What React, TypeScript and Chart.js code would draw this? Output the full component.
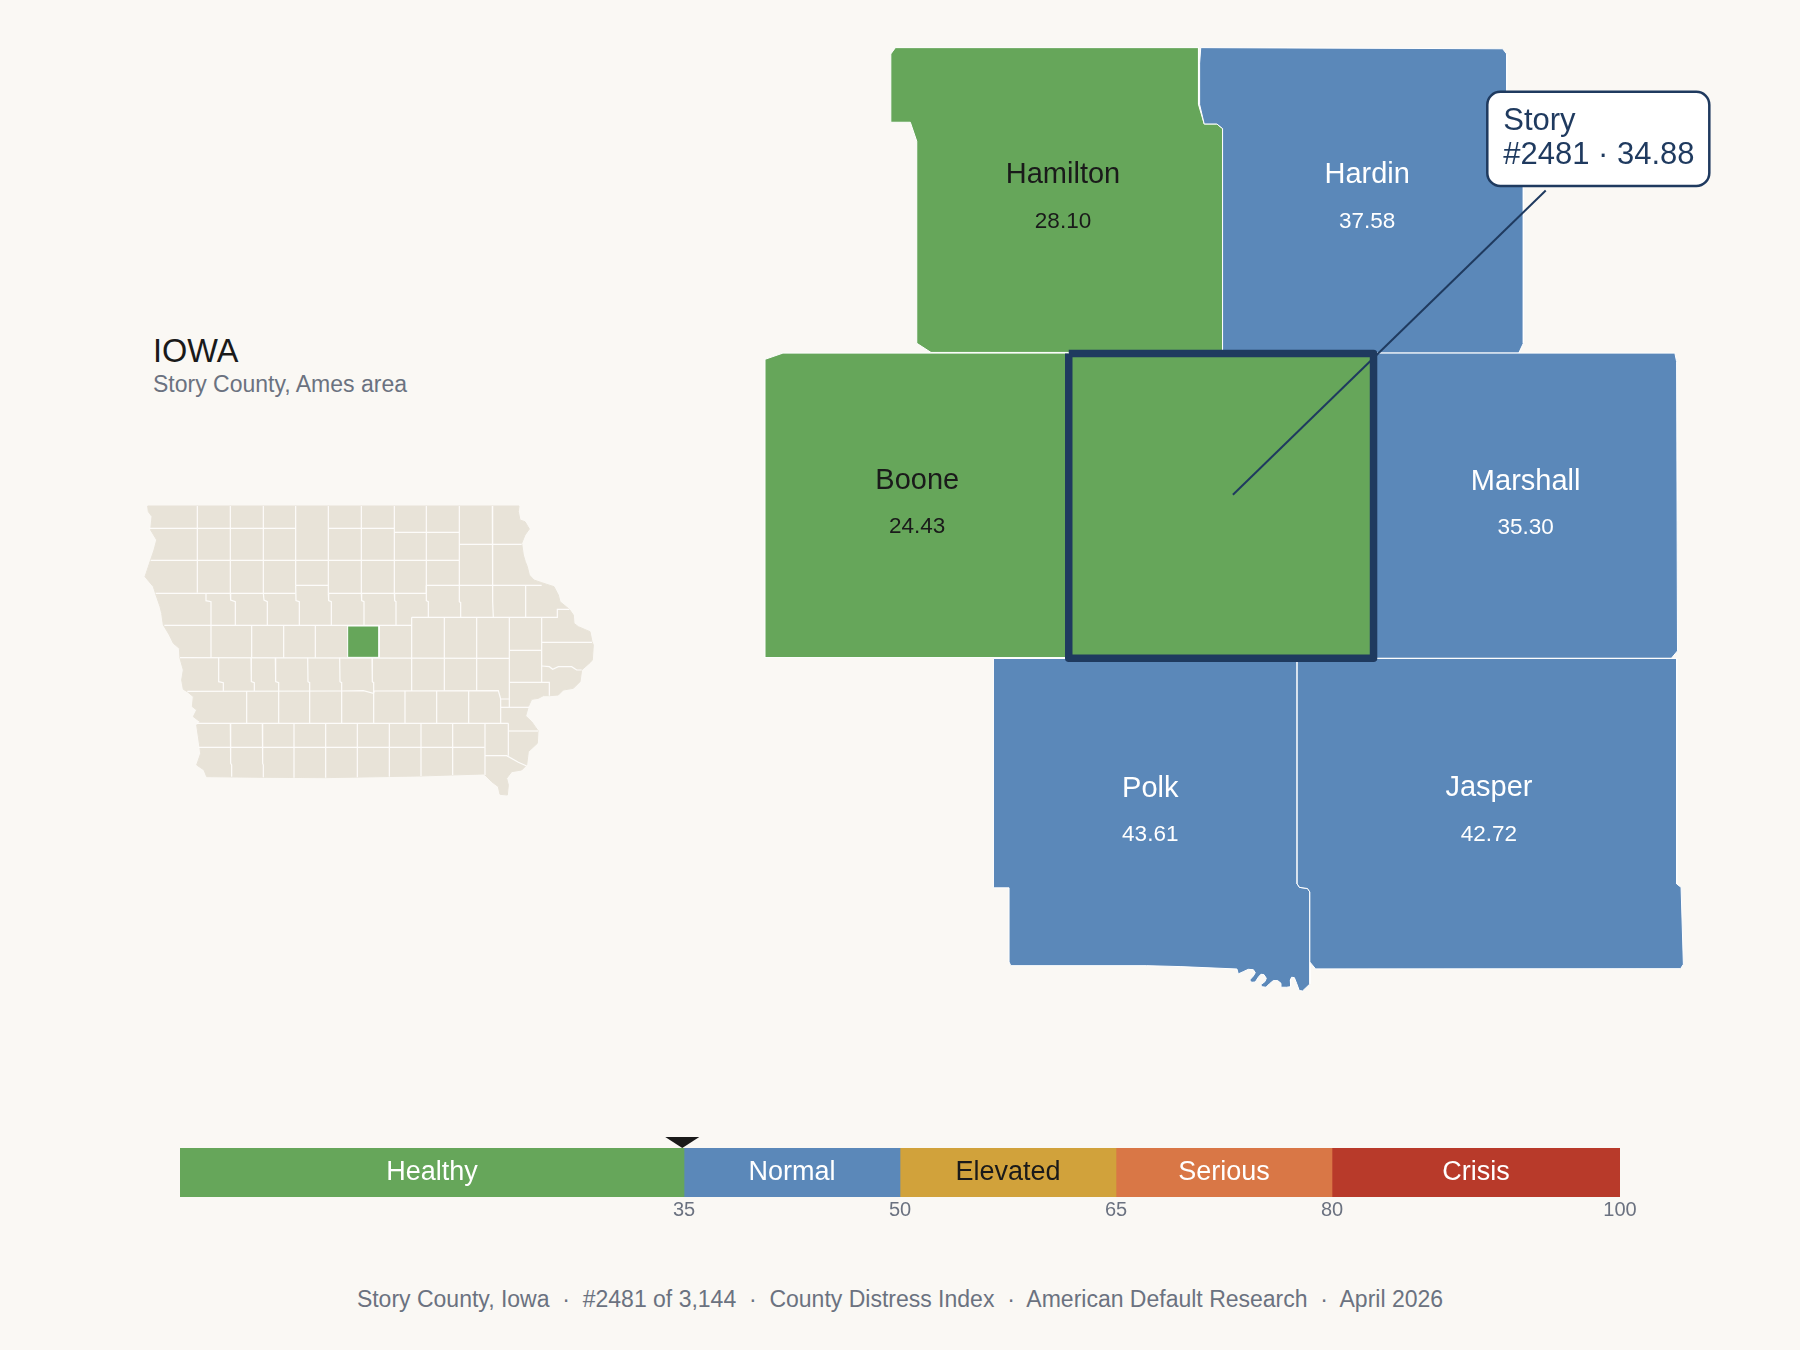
import React, { useEffect, useRef } from "react";
import { Chart, registerables } from "chart.js";

Chart.register(...registerables);

type P = [number, number];

const BG = "#FAF8F4";
const NAVY = "#1F3A5F";
const INK = "#1A1A1A";
const GREY = "#6B7280";
const FONT = '"Liberation Sans", Arial, sans-serif';

// ---- severity scale ----
const bandNames = ["Healthy", "Normal", "Elevated", "Serious", "Crisis"];
const bandWidths = [35, 15, 15, 15, 20];
const bandColors = ["#66A65A", "#5B88B9", "#D1A23B", "#D97746", "#B83A2A"];
const bandInk = ["#FFFFFF", "#FFFFFF", INK, "#FFFFFF", "#FFFFFF"];
const bandTicks = [35, 50, 65, 80, 100];
const storyScore = 34.88;

// ---- neighbouring counties ----
const countyNames = ["Hamilton", "Hardin", "Boone", "Marshall", "Polk", "Jasper"];
const countyValues = [28.1, 37.58, 24.43, 35.3, 43.61, 42.72];
const countyLabelAnchors: P[] = [
  [926, 152.8], [1191, 152.8], [799, 418.8], [1329, 419.6], [1002, 687.6], [1297, 686.8],
];
const hamiltonShape: P[] = [
  [776, 47], [780, 41.5], [1044, 41.5], [1044, 91], [1049, 108], [1060, 108], [1065, 112], [1065, 307],
  [811, 307], [798.6, 299], [798.6, 123], [793, 106.5], [776, 106.5],
];
const hardinShape: P[] = [
  [1046, 41.5], [1309, 42.5], [1312.5, 47], [1312.5, 120], [1327, 130], [1327, 299], [1323, 307.5], [1065, 307.5],
  [1065, 112], [1060, 108], [1049, 108], [1045, 91], [1045, 55],
];
const booneShape: P[] = [[666.4, 313], [682, 307.6], [931, 307.6], [931, 572.8], [666.4, 572.8]];
const marshallShape: P[] = [[1197, 307.6], [1459, 307.6], [1460.5, 315], [1461.3, 567], [1456, 573.4], [1197, 573.4]];
const polkShape: P[] = [
  [865.4, 573.6], [1130, 573.6], [1130, 770], [1132, 773], [1139, 774], [1141.1, 777], [1141.1, 857.1],
  [1134.7, 863.2], [1131.8, 862.9], [1129.5, 856.6], [1127.5, 851.6], [1125.1, 851.3], [1124, 853.7], [1124.3, 859.5],
  [1120.8, 860], [1116.7, 860], [1115.9, 856.6], [1113, 854.2], [1109.2, 854.2], [1105.7, 857.1], [1102.8, 860],
  [1099, 859.5], [1098.4, 857.7], [1101.9, 855.1], [1103.1, 852.2], [1101, 849], [1098.4, 848.7], [1096.1, 851.3],
  [1093.5, 855.4], [1090.3, 855.7], [1088.6, 853.7], [1091.8, 850.2], [1093.5, 847.3], [1091.8, 844.7], [1087.4, 844.4],
  [1083, 846.4], [1078.7, 848.4], [1077.5, 844.1], [1028, 842], [999, 841.2], [880.5, 841.2], [879, 838], [879, 773.4], [865.4, 773.4],
];
const jasperShape: P[] = [
  [1130, 573.6], [1460.6, 573.6], [1460.6, 770], [1464.4, 773], [1466.4, 840], [1464, 843.8], [1146, 844], [1141, 838],
  [1141, 777], [1139, 774], [1132, 773], [1130, 770],
];
const countyShapes = [hamiltonShape, hardinShape, booneShape, marshallShape, polkShape, jasperShape];

const storyName = "Story";
const storyRank = 2481;
const storyShape: P[] = [[931, 308], [1196.5, 308], [1196.5, 573.5], [931, 573.5]];
const leaderLine: P[] = [[1346.5, 166], [1074, 431]];

// ---- Iowa locator, state outline and county borders ----
const iowaOutline: P[] = [
  [53, 78], [1167, 78], [1165, 95], [1170, 120], [1185, 125], [1198, 147], [1185, 165], [1175, 190], [1180, 225], [1186, 245],
  [1192, 260], [1198, 285], [1212, 300], [1235, 308], [1272, 320], [1285, 345], [1290, 365], [1318, 388], [1330, 405], [1332, 430],
  [1345, 440], [1380, 455], [1386, 485], [1390, 495], [1387, 540], [1380, 548], [1355, 570], [1350, 605], [1330, 625], [1300, 630],
  [1285, 645], [1260, 647], [1240, 647], [1225, 655], [1205, 658], [1195, 680], [1187, 708], [1205, 725], [1224, 752], [1222, 790],
  [1195, 815], [1190, 855], [1175, 870], [1145, 875], [1130, 895], [1135, 915], [1132, 945], [1110, 943], [1105, 920], [1085, 905],
  [1065, 885], [1060, 882], [870, 888], [585, 893], [400, 892], [230, 890], [222, 870], [200, 855], [212, 820], [208, 790],
  [200, 735], [210, 725], [190, 710], [200, 690], [187, 680], [190, 650], [172, 635], [160, 628], [155, 600], [160, 570],
  [150, 535], [148, 505], [130, 490], [118, 465], [100, 435], [95, 400], [90, 380], [78, 345], [70, 320], [45, 290],
  [60, 245], [72, 210], [80, 180], [62, 150], [66, 110], [55, 95],
];
const iowaStory: P[] = [[653, 438], [747, 438], [747, 532], [653, 532]];
const iowaBorders: P[][] = [
  // east-west
  [[58, 145], [497, 145]], [[597, 145], [793, 145]], [[793, 157], [988, 157]], [[988, 193], [1175, 193]],
  [[62, 241], [988, 241]], [[497, 316], [595, 316]], [[889, 316], [1235, 316]], [[77, 340], [497, 340]], [[595, 340], [889, 340]],
  [[845, 412], [1282, 412], [1282, 388], [1318, 388]], [[103, 436], [845, 436]], [[1235, 487], [1386, 487]], [[1138, 511], [1235, 511]],
  [[150, 533], [1138, 535]], [[1235, 558], [1258, 560], [1268, 568], [1285, 560], [1325, 560], [1340, 570], [1355, 570]],
  [[1138, 607], [1258, 607], [1258, 647]], [[172, 634], [630, 633], [700, 632], [730, 640], [732, 633], [1105, 632], [1112, 657], [1138, 657]],
  [[1112, 682], [1198, 682]], [[200, 730], [1135, 730]], [[1135, 753], [1224, 753]], [[205, 802], [1064, 802]],
  [[1065, 827], [1130, 827], [1165, 847], [1190, 858]],
  // north-south
  [[202, 78], [202, 338]], [[301, 78], [301, 340]], [[400, 78], [400, 340]], [[497, 78], [497, 316]], [[595, 78], [595, 340]],
  [[694, 78], [694, 340]], [[793, 78], [793, 340]], [[889, 78], [889, 340]], [[988, 78], [988, 365], [992, 368], [992, 412]],
  [[1087, 78], [1088, 365], [1090, 412]], [[1187, 316], [1187, 412]],
  [[228, 340], [228, 362], [243, 365], [243, 533]], [[301, 340], [302, 360], [316, 365], [316, 436]],
  [[400, 340], [402, 360], [412, 365], [412, 436]], [[497, 316], [498, 362], [508, 365], [508, 436]],
  [[595, 340], [596, 362], [604, 365], [604, 436]], [[694, 340], [695, 362], [702, 365], [702, 436]],
  [[793, 340], [794, 362], [798, 365], [798, 436]], [[889, 316], [889, 362], [895, 365], [895, 412]],
  [[365, 436], [365, 533]], [[461, 436], [461, 533]], [[556, 436], [556, 533]], [[653, 436], [653, 533]], [[747, 436], [747, 533]],
  [[845, 412], [845, 633]], [[943, 412], [943, 632]], [[1040, 412], [1040, 632]], [[1138, 412], [1138, 682]], [[1235, 412], [1235, 607]],
  [[266, 533], [266, 605], [280, 608], [280, 633]], [[363, 533], [364, 605], [373, 608], [373, 633]],
  [[436, 533], [437, 605], [446, 608], [446, 633]], [[533, 533], [534, 605], [539, 608], [539, 633]],
  [[629, 533], [630, 605], [635, 608], [635, 633]], [[726, 533], [727, 605], [731, 608], [731, 640]],
  [[350, 633], [350, 730]], [[446, 633], [446, 730]], [[539, 633], [539, 730]], [[635, 633], [635, 730]], [[731, 633], [731, 730]],
  [[825, 633], [825, 730]], [[920, 633], [920, 730]], [[1016, 633], [1016, 730]], [[1112, 657], [1112, 730]],
  [[301, 730], [302, 850], [305, 855], [305, 890]], [[397, 730], [398, 850], [400, 855], [400, 892]],
  [[492, 730], [492, 893]], [[587, 730], [587, 893]], [[682, 730], [682, 892]], [[778, 730], [778, 890]],
  [[873, 730], [873, 888]], [[968, 730], [968, 885]], [[1065, 730], [1065, 885]], [[1135, 730], [1135, 827]],
];

const xy = (pts: P[]) => {
  const closed = [...pts, pts[0]];
  return closed.map(([x, y]) => ({ x, y }));
};
const open = (pts: P[]) => pts.map(([x, y]) => ({ x, y }));
const bandIndex = (v: number) => {
  let end = 0;
  for (let i = 0; i < bandWidths.length; i++) {
    end += bandWidths[i];
    if (v < end) return i;
  }
  return bandWidths.length - 1;
};

const area = (d: any, i: number, color: string, border: string, bw: number) => ({
  data: d,
  showLine: true,
  fill: "shape",
  backgroundColor: color,
  borderColor: border,
  borderWidth: bw,
  pointRadius: 0,
  tension: 0,
  clip: false,
  order: -i,
});
const rule = (d: any, i: number, color: string, bw: number) => ({
  data: d,
  showLine: true,
  fill: false,
  borderColor: color,
  borderWidth: bw,
  pointRadius: 0,
  tension: 0,
  clip: false,
  order: -i,
});

const common = {
  responsive: false,
  animation: false as const,
  devicePixelRatio: 1,
  events: [] as any[],
  plugins: { legend: { display: false }, tooltip: { enabled: false } },
  layout: { padding: 0 },
};

const UNIT = 1800 / 1568;
const MAP_BOX = { left: 740, top: 30, width: 980, height: 980 };
const CALLOUT = { left: 1295.6, top: 79.9, right: 1489, bottom: 162, textX: 1309.5, line1: 113.4, line2: 143.2 };

export default function App() {
  const locRef = useRef<HTMLCanvasElement>(null);
  const mapRef = useRef<HTMLCanvasElement>(null);
  const barRef = useRef<HTMLCanvasElement>(null);

  useEffect(() => {
    const charts: Chart[] = [];

    // Locator
    const locSets: any[] = [area(xy(iowaOutline), 0, "#E8E3D8", "#E8E3D8", 1)];
    iowaBorders.forEach((b) => locSets.push(rule(open(b), locSets.length, "#FDFCFA", 1.2)));
    locSets.push(area(xy(iowaStory), locSets.length, bandColors[bandIndex(storyScore)], "#FFFFFF", 1));
    charts.push(
      new Chart(locRef.current!, {
        type: "scatter",
        data: { datasets: locSets },
        options: {
          ...common,
          scales: {
            x: { type: "linear", display: false, min: 0, max: 1440 },
            y: { type: "linear", display: false, min: 0, max: 1020, reverse: true },
          },
        } as any,
      })
    );

    // Neighbour map
    const mapSets: any[] = countyShapes.map((s, i) =>
      area(xy(s), i, bandColors[bandIndex(countyValues[i])], "#FFFFFF", 1)
    );
    mapSets.push(area(xy(storyShape), mapSets.length, bandColors[bandIndex(storyScore)], NAVY, 7.5));
    mapSets[mapSets.length - 1].borderJoinStyle = "round";
    mapSets.push(rule(open(leaderLine), mapSets.length, NAVY, 2));

    const mapText = {
      id: "mapText",
      afterDatasetsDraw(chart: any) {
        const { ctx, scales } = chart;
        const X = (v: number) => scales.x.getPixelForValue(v);
        const Y = (v: number) => scales.y.getPixelForValue(v);
        ctx.save();
        ctx.textAlign = "center";
        ctx.textBaseline = "middle";
        countyNames.forEach((name, i) => {
          const [ax, ay] = countyLabelAnchors[i];
          ctx.fillStyle = bandIndex(countyValues[i]) === 0 ? INK : "#FFFFFF";
          ctx.font = `29px ${FONT}`;
          ctx.fillText(name, X(ax), Y(ay));
          ctx.font = `22.5px ${FONT}`;
          ctx.fillText(countyValues[i].toFixed(2), X(ax), Y(ay + 40));
        });
        // callout
        const l = X(CALLOUT.left), t = Y(CALLOUT.top);
        const w = X(CALLOUT.right) - l, h = Y(CALLOUT.bottom) - t;
        ctx.beginPath();
        ctx.roundRect(l, t, w, h, 13);
        ctx.fillStyle = "#FFFFFF";
        ctx.fill();
        ctx.strokeStyle = NAVY;
        ctx.lineWidth = 2.5;
        ctx.stroke();
        ctx.fillStyle = NAVY;
        ctx.textAlign = "left";
        ctx.textBaseline = "alphabetic";
        ctx.font = `31px ${FONT}`;
        ctx.fillText(storyName, X(CALLOUT.textX), Y(CALLOUT.line1));
        ctx.fillText(`#${storyRank} · ${storyScore.toFixed(2)}`, X(CALLOUT.textX), Y(CALLOUT.line2));
        ctx.restore();
      },
    };
    charts.push(
      new Chart(mapRef.current!, {
        type: "scatter",
        data: { datasets: mapSets },
        options: {
          ...common,
          scales: {
            x: { type: "linear", display: false, min: MAP_BOX.left / UNIT, max: (MAP_BOX.left + MAP_BOX.width) / UNIT },
            y: { type: "linear", display: false, min: MAP_BOX.top / UNIT, max: (MAP_BOX.top + MAP_BOX.height) / UNIT, reverse: true },
          },
        } as any,
        plugins: [mapText],
      })
    );

    // Severity bar
    const barText = {
      id: "barText",
      afterDatasetsDraw(chart: any) {
        const { ctx, scales, chartArea } = chart;
        const x = scales.x;
        let start = 0;
        ctx.save();
        ctx.textAlign = "center";
        ctx.textBaseline = "middle";
        ctx.font = `27px ${FONT}`;
        bandNames.forEach((n, i) => {
          const mid = start + bandWidths[i] / 2;
          ctx.fillStyle = bandInk[i];
          ctx.fillText(n, x.getPixelForValue(mid), (chartArea.top + chartArea.bottom) / 2);
          start += bandWidths[i];
        });
        const px = x.getPixelForValue(storyScore);
        ctx.fillStyle = INK;
        ctx.beginPath();
        ctx.moveTo(px - 17, chartArea.top - 11);
        ctx.lineTo(px + 17, chartArea.top - 11);
        ctx.lineTo(px, chartArea.top);
        ctx.closePath();
        ctx.fill();
        ctx.restore();
      },
    };
    charts.push(
      new Chart(barRef.current!, {
        type: "bar",
        data: {
          labels: ["Distress"],
          datasets: bandNames.map((n, i) => ({
            label: n,
            data: [bandWidths[i]],
            backgroundColor: bandColors[i],
            borderWidth: 0,
            barPercentage: 1,
            categoryPercentage: 1,
          })),
        },
        options: {
          ...common,
          indexAxis: "y",
          layout: { padding: { left: 30, right: 30, top: 18, bottom: 0 } },
          scales: {
            x: {
              type: "linear",
              stacked: true,
              min: 0,
              max: 100,
              grid: { display: false, drawTicks: false },
              border: { display: false },
              afterBuildTicks(axis: any) {
                axis.ticks = bandTicks.map((value) => ({ value }));
              },
              afterFit(axis: any) {
                axis.height = 40;
              },
              ticks: {
                autoSkip: false,
                maxRotation: 0,
                minRotation: 0,
                padding: 1,
                color: GREY,
                font: { family: "Liberation Sans", size: 20 },
              },
            },
            y: { stacked: true, display: false },
          },
        } as any,
        plugins: [barText],
      })
    );

    return () => charts.forEach((c) => c.destroy());
  }, []);

  const abs = (left: number, top: number): React.CSSProperties => ({ position: "absolute", left, top });
  const line = (top: number, size: number, color: string, text: string, left = 153) => (
    <div
      style={{
        ...abs(left, top),
        font: `${size}px/${size + 6}px ${FONT}`,
        color,
        whiteSpace: "pre",
      }}
    >
      {text}
    </div>
  );

  return (
    <div style={{ position: "absolute", left: 0, top: 0, width: 1800, height: 1350, background: BG, overflow: "hidden" }}>
      {line(332, 32.5, INK, "IOWA")}
      {line(370, 23, GREY, "Story County, Ames area")}
      <canvas ref={locRef} width={480} height={340} style={{ ...abs(130, 480), display: "block" }} />
      <canvas
        ref={mapRef}
        width={MAP_BOX.width}
        height={MAP_BOX.height}
        style={{ ...abs(MAP_BOX.left, MAP_BOX.top), display: "block" }}
      />
      <canvas ref={barRef} width={1500} height={107} style={{ ...abs(150, 1130), display: "block" }} />
      <div
        style={{
          ...abs(0, 1285),
          width: 1800,
          textAlign: "center",
          font: `23px/29px ${FONT}`,
          color: GREY,
          whiteSpace: "pre",
        }}
      >
        {"Story County, Iowa  ·  #2481 of 3,144  ·  County Distress Index  ·  American Default Research  ·  April 2026"}
      </div>
    </div>
  );
}
